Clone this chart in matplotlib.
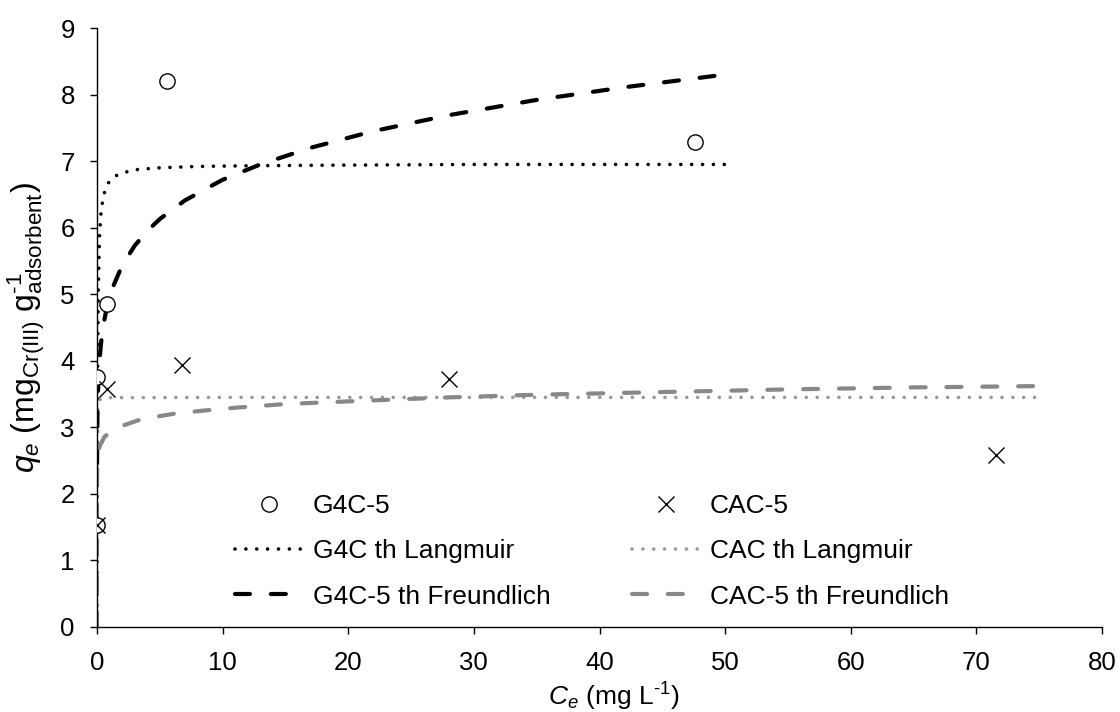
import matplotlib
matplotlib.use("Agg")
import matplotlib.pyplot as plt

plt.rcParams['font.family'] = ['Liberation Sans', 'DejaVu Sans']
plt.rcParams['mathtext.fontset'] = 'custom'
plt.rcParams['mathtext.rm'] = 'Liberation Sans'
plt.rcParams['mathtext.it'] = 'Liberation Sans:italic'

# Experimental data
g4c_x = [0.0, 0.0, 0.8, 5.6, 47.6]
g4c_y = [1.53, 3.75, 4.85, 8.20, 7.28]
cac_x = [0.0, 0.8, 6.8, 28.0, 71.6]
cac_y = [1.53, 3.58, 3.93, 3.73, 2.58]

# Model curves
g4c_lang_x = [0, 0.05, 0.1, 0.2, 0.3, 0.5, 0.75, 1.0, 1.5, 2, 3, 5, 8, 12, 20, 30, 40, 50]
g4c_lang_y = [0, 3.99, 5.07, 5.86, 6.19, 6.47, 6.62, 6.70, 6.78, 6.82, 6.87, 6.90, 6.92, 6.93, 6.94, 6.95, 6.95, 6.95]

g4c_freu_x = [0.005, 0.01, 0.03, 0.07, 0.15, 0.3, 0.5, 0.8, 1.2, 2, 3, 4, 5, 7, 10, 13, 17, 22, 28, 35, 42, 50]
g4c_freu_y = [2.47, 2.70, 3.13, 3.49, 3.86, 4.23, 4.53, 4.82, 5.08, 5.43, 5.73, 5.95, 6.13, 6.41, 6.72,
              6.95, 7.20, 7.45, 7.69, 7.92, 8.11, 8.30]

cac_lang_x = [0, 0.002, 0.005, 0.01, 0.02, 0.05, 0.1, 0.3, 1, 10, 30, 50, 75]
cac_lang_y = [0, 1.72, 2.46, 2.88, 3.14, 3.32, 3.38, 3.43, 3.445, 3.45, 3.45, 3.45, 3.45]

cac_freu_x = [0, 0.001, 0.01, 0.05, 0.2, 0.6, 1.5, 3.5, 6.3, 10, 15, 20, 28, 35, 45, 55, 65, 75]
cac_freu_y = [0, 2.10, 2.35, 2.54, 2.71, 2.86, 2.99, 3.12, 3.21, 3.28, 3.35, 3.39, 3.45, 3.49, 3.53,
              3.57, 3.60, 3.62]

x_ticks = [0, 10, 20, 30, 40, 50, 60, 70, 80]
y_ticks = [0, 1, 2, 3, 4, 5, 6, 7, 8, 9]

fig = plt.figure(figsize=(11.2, 7.12), dpi=100)
ax = fig.add_axes([97/1120, 1-627/712, (1102-97)/1120, (627-28)/712])

FS = 19
TFS = 18.5

ax.plot(g4c_x, g4c_y, linestyle='none', marker='o', markersize=11, markerfacecolor='white',
        markeredgecolor='black', markeredgewidth=1.0, label='G4C-5', zorder=5)
ax.plot(cac_x, cac_y, linestyle='none', marker='x', markersize=11, color='black',
        markeredgewidth=1.0, label='CAC-5', zorder=5)

ln1, = ax.plot(g4c_lang_x, g4c_lang_y, color='black', lw=2.6, label='G4C th Langmuir')
ln1.set_dashes([0.01, 3.0]); ln1.set_dash_capstyle('round')
ln2, = ax.plot(cac_lang_x, cac_lang_y, color='#999999', lw=2.6, label='CAC th Langmuir')
ln2.set_dashes([0.01, 3.0]); ln2.set_dash_capstyle('round')
ln3, = ax.plot(g4c_freu_x, g4c_freu_y, color='black', lw=3.0, label='G4C-5 th Freundlich')
ln3.set_dashes([3.6, 5.0]); ln3.set_dash_capstyle('round')
ln4, = ax.plot(cac_freu_x, cac_freu_y, color='#888888', lw=3.0, label='CAC-5 th Freundlich')
ln4.set_dashes([3.6, 5.0]); ln4.set_dash_capstyle('round')

ax.set_xlim(0, 80)
ax.set_ylim(0, 9)
ax.set_xticks(x_ticks)
ax.set_yticks(y_ticks)
ax.tick_params(axis='both', labelsize=TFS, direction='out', length=5, width=1, colors='black')
ax.tick_params(axis='x', pad=12.5)
ax.tick_params(axis='y', pad=11)
for s in ['top', 'right']:
    ax.spines[s].set_visible(False)
for s in ['left', 'bottom']:
    ax.spines[s].set_linewidth(1.0)
    ax.spines[s].set_color('black')

ax.set_xlabel(r'$C_e$ (mg L$^{\text{-1}}$)', fontsize=FS, labelpad=7.5)
ax.xaxis.set_label_coords(0.514, -0.09)
ax.xaxis.label.set_va('top')
ax.set_ylabel(r'$q_e$ (mg$_{\mathrm{Cr(III)}}$ g$^{\text{-1}}_{\mathrm{adsorbent}}$)', fontsize=23, labelpad=10)

handles = [ax.lines[0], ln1, ln3, ax.lines[1], ln2, ln4]
leg = ax.legend(handles=handles, labels=[h.get_label() for h in handles], ncol=2, frameon=False,
                fontsize=FS, handlelength=2.57, handletextpad=0.38, columnspacing=3.07,
                labelspacing=0.81, loc='upper left', bbox_to_anchor=(11.0, 2.00),
                bbox_transform=ax.transData, borderaxespad=0, borderpad=0)

fig.savefig('out.png', dpi=100)
